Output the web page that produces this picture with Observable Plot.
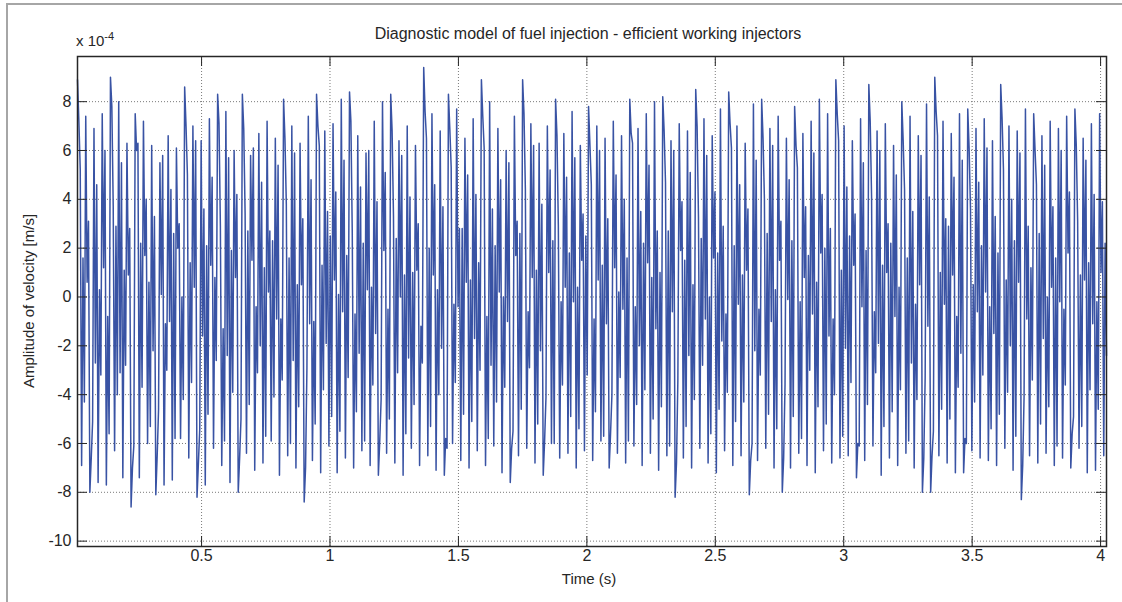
<!DOCTYPE html>
<html><head><meta charset="utf-8">
<script src="https://cdn.jsdelivr.net/npm/d3@7"></script>
<script src="https://cdn.jsdelivr.net/npm/@observablehq/plot@0.6"></script>
<style>
body{margin:0;background:#fff;}
#wrap{position:relative;width:1122px;height:602px;overflow:hidden;font-family:"Liberation Sans",Arial,Helvetica,sans-serif;color:#262626;background:#fff;}
#chart{position:absolute;left:0;top:0;}
#border{position:absolute;left:6px;top:3px;width:1300px;height:800px;border:2px solid #a6a6a6;pointer-events:none;}
.t{position:absolute;font-size:15px;line-height:15px;white-space:nowrap;}
#title{left:588px;top:26px;transform:translateX(-50%);font-size:16px;line-height:16px;}
#exp{left:76px;top:31px;}
#exp sup{font-size:11px;line-height:11px;vertical-align:6px;}
#xlab{left:589px;top:571px;transform:translateX(-50%);}
#ylab{left:28px;top:301px;transform:translate(-50%,-50%) rotate(-90deg);}
</style></head><body>
<div id="wrap">
  <div id="chart"></div>
  <div id="border"></div>
  <div class="t" id="title">Diagnostic model of fuel injection - efficient working injectors</div>
  <div class="t" id="exp">x 10<sup>-4</sup></div>
  <div class="t" id="xlab">Time (s)</div>
  <div class="t" id="ylab">Amplitude of velocity [m/s]</div>
</div>
<script>
// sampling of the signal (seconds)
const tStart = 0.017;
const tEnd = 4.023;
// axis limits and ticks (velocity in units of 1e-4 m/s)
const yMin = -10.22;
const yMax = 9.85;
const xTicks = [0.5, 1, 1.5, 2, 2.5, 3, 3.5, 4];
const yTicks = [-10, -8, -6, -4, -2, 0, 2, 4, 6, 8];
// amplitude of velocity, x 1e-4 m/s, uniformly sampled from tStart to tEnd
const velocity = [
  8.9, 7.2, 5.2, -6.9, 1.6, -4.3,    7.4, 0.6, 3.1, -8.0, -6.6, -5.1,
  6.9, -2.7, 4.6, -7.6, 0.3, -3.2,   7.5, 1.2, 6.0, -7.7, -0.8, -5.6,
  9.0, 7.8, 3.7, -6.3, 2.9, -4.0,    8.0, -3.1, 5.5, -7.4, 1.1, -2.8,
  6.3, 0.9, 2.8, -8.6, -7.0, -6.1,   7.5, 6.0, 6.3, -7.4, 2.2, -3.7,
  7.2, 1.7, 4.0, -6.0, 0.6, -5.3,    6.2, -2.2, 3.3, -8.1, -6.5, -4.6,
  5.5, 0.1, 5.8, -7.7, -1.1, -3.0,   6.6, -1.0, 4.4, -7.5, 2.6, -5.8,
  6.1, 2.0, 3.0, -5.8, 0.0, -4.2,    8.6, 7.0, 5.0, -6.6, 1.4, -3.5,
  7.0, 0.4, 6.4, -8.2, -6.8, -5.4,   6.4, -1.6, 3.6, -7.7, 2.1, -4.8,
  7.3, 1.3, 4.9, -6.2, 0.8, -2.6,    8.3, 7.1, 2.9, -6.9, -1.3, -5.9,
  7.6, -2.4, 5.7, -7.6, 1.9, -3.9,   6.0, 0.8, 4.2, -8.0, -6.6, -5.0,
  8.3, 6.9, 3.4, -6.4, 2.7, -4.4,    5.8, 1.5, 6.1, -7.1, -0.4, -3.1,
  6.7, -2.0, 4.7, -6.8, 1.2, -5.7,   7.2, 0.2, 2.7, -5.9, 2.3, -4.1,
  6.5, -0.9, 5.4, -7.3, -0.9, -3.4,  8.1, 6.5, 3.8, -6.5, 1.6, -6.0,
  7.0, -2.6, 5.9, -7.0, 0.5, -4.5,   6.3, 0.5, 3.2, -8.4, -7.0, -2.9,
  7.4, -1.1, 4.8, -6.7, -1.0, -5.2,  8.3, 7.0, 6.2, -7.2, 1.3, -3.8,
  6.8, -1.9, 3.5, -6.1, 2.5, -4.9,   7.1, 0.7, 4.3, -7.2, 0.1, -5.5,
  8.1, -0.6, 5.6, -6.6, 1.7, -3.3,   8.4, 7.2, 2.6, -7.0, -0.7, -4.7,
  6.6, -2.3, 4.5, -6.3, 2.2, -5.9,   5.9, 0.3, 6.0, -6.9, 0.4, -3.6,
  7.2, -1.5, 3.9, -7.3, -5.9, -4.2,  8.0, 1.9, 5.1, -6.4, -0.5, -5.0,
  8.3, 6.8, 3.3, -6.8, 2.4, -3.1,    6.4, 0.0, 5.8, -7.3, 0.9, -5.6,
  7.0, -2.5, 4.1, -6.2, 1.0, -4.4,   6.2, 1.1, 3.0, -6.9, -1.2, -2.7,
  9.4, 7.6, 6.5, -6.5, 2.0, -5.3,    7.5, 0.9, 4.6, -7.1, 0.3, -4.0,
  6.8, -2.1, 3.7, -7.3, -5.8, -6.2,  8.3, 6.9, 5.3, -6.0, -0.3, -3.5,
  7.7, -0.4, 2.8, -6.7, 2.8, -4.8,   6.5, 0.6, 5.0, -7.0, 0.7, -5.1,
  7.3, -1.7, 4.2, -6.3, 1.4, -3.0,   8.9, 7.4, 6.1, -6.9, -0.8, -5.8,
  8.0, -2.8, 3.6, -6.1, 2.1, -4.3,   6.9, 0.2, 4.8, -7.2, 0.0, -3.7,
  6.0, -1.0, 5.5, -7.6, -6.2, -5.5,  7.4, 1.7, 3.1, -6.5, 2.6, -4.6,
  8.9, 7.5, 4.4, -6.2, -0.6, -2.9,   7.1, 0.8, 6.2, -6.8, 1.1, -5.2,
  6.3, -2.2, 3.8, -7.3, -5.9, -4.1,  7.0, 1.0, 5.2, -6.0, 2.3, -6.0,
  8.1, 6.6, 2.9, -6.6, -0.2, -3.6,   6.7, 0.4, 4.9, -6.4, 1.8, -4.9,
  7.6, -0.2, 5.7, -7.0, 0.4, -5.4,   6.2, 1.5, 3.4, -6.3, 2.5, -3.2,
  7.8, 6.2, 4.6, -6.7, -0.9, -4.7,   7.0, 0.7, 6.0, -5.9, 1.3, -5.7,
  6.5, -1.1, 3.2, -7.0, -5.6, -4.0,  7.2, 1.2, 5.0, -6.4, 0.2, -3.3,
  6.6, -0.5, 4.0, -6.8, 1.6, -5.9,   8.1, 6.7, 6.3, -6.1, -0.4, -4.4,
  6.9, -2.0, 3.5, -6.9, 2.2, -3.8,   7.5, 1.4, 5.4, -6.4, 0.8, -5.0,
  8.0, -1.3, 2.7, -7.1, 1.0, -4.5,   8.2, 6.8, 4.7, -6.5, 2.7, -6.1,
  6.4, -0.6, 6.0, -8.2, -6.8, -3.4,  7.1, 1.9, 3.9, -6.6, 1.5, -5.3,
  6.8, -2.4, 5.1, -7.0, 0.5, -4.2,   8.5, 7.0, 3.3, -6.2, 2.4, -2.8,
  7.3, -0.9, 5.8, -6.8, 0.0, -5.6,   6.6, 1.6, 4.3, -7.2, 1.8, -4.6,
  7.7, -1.8, 2.9, -6.3, -0.7, -3.9,  8.4, 7.1, 6.1, -6.9, 2.1, -5.1,
  7.0, -0.3, 4.6, -6.5, 0.9, -4.3,   6.3, 1.1, 3.6, -8.1, -6.7, -6.0,
  7.9, -2.2, 5.6, -6.7, -0.5, -3.2,  8.1, 6.5, 4.0, -6.2, 2.6, -4.8,
  6.9, -1.0, 6.2, -7.0, 0.3, -5.4,   7.4, 1.5, 3.1, -8.0, -6.6, -3.6,
  6.5, -0.1, 4.8, -7.0, 2.3, -4.9,   7.8, 6.2, 5.3, -6.4, -0.2, -5.8,
  6.7, 0.8, 3.7, -6.9, 1.7, -3.0,    7.2, -0.7, 5.9, -7.2, 0.6, -4.5,
  8.1, 1.8, 4.2, -6.3, 2.0, -5.2,    7.5, -1.6, 2.8, -6.8, -0.9, -4.0,
  8.9, 7.5, 6.4, -6.6, 1.1, -5.7,    7.0, -2.1, 4.5, -6.5, 2.5, -3.5,
  6.4, 1.3, 3.4, -7.4, -6.0, -6.1,   7.3, -0.4, 5.5, -6.7, 1.9, -4.4,
  8.7, 7.2, 4.1, -6.1, -0.6, -3.1,   6.8, -1.9, 6.0, -7.3, 1.3, -5.3,
  7.1, 1.0, 3.0, -6.6, 2.2, -4.7,    6.2, -0.8, 5.0, -6.9, 0.4, -3.8,
  8.0, 6.4, 4.4, -6.4, 1.6, -5.9,    7.4, -2.7, 3.5, -7.0, -0.3, -4.2,
  6.6, 0.5, 5.8, -8.0, -6.6, -3.3,   7.9, -1.2, 4.1, -8.0, -6.5, -5.5,
  9.0, 7.6, 6.6, -6.5, 1.0, -4.6,    7.2, -0.3, 3.2, -6.8, 2.9, -5.0,
  6.7, 0.9, 4.9, -7.2, -0.8, -3.7,   7.5, -2.3, 5.6, -7.2, -5.8, -6.0,
  7.7, 6.1, 3.6, -6.3, 0.5, -4.3,    6.9, -0.6, 4.7, -6.6, 2.1, -3.2,
  7.3, 0.2, 6.1, -6.7, -0.4, -5.4,   6.4, -1.5, 3.3, -6.9, 1.8, -4.8,
  8.7, 7.3, 5.2, -6.2, 0.7, -3.9,    7.0, -2.0, 4.0, -7.1, 2.3, -5.7,
  6.8, 0.6, 5.9, -8.3, -6.9, -4.1,   7.7, -0.9, 2.9, -6.5, 1.2, -3.4,
  7.5, 6.0, 4.6, -6.8, 2.6, -5.2,    6.6, -1.7, 5.4, -6.4, 0.0, -4.5,
  7.2, 0.4, 3.7, -6.9, 1.6, -6.1,    6.9, -0.2, 6.0, -6.6, -0.5, -3.6,
  7.4, 1.8, 4.3, -7.0, -5.6, -4.9,   7.7, 6.2, 3.1, -6.2, 0.9, -5.3,
  6.5, 0.7, 5.6, -7.2, 1.4, -3.8,    7.1, -1.1, 4.2, -7.1, -0.2, -4.6,
  7.5, 1.0, 3.9, -6.5, 2.2, -2.4
];

const dt = (tEnd - tStart) / (velocity.length - 1);
const samples = velocity.map((v, i) => ({t: tStart + i * dt, v}));

const W = 1122, H = 602, mL = 77, mR = 16, mT = 56, mB = 56;
const frameW = W - mL - mR, frameH = H - mT - mB, tickLen = 10;
const axisColor = "#262626";
const fmt = d => String(d);

const chart = Plot.plot({
  width: W, height: H,
  marginLeft: mL, marginRight: mR, marginTop: mT, marginBottom: mB,
  style: {fontFamily: '"Liberation Sans", Arial, Helvetica, sans-serif', fontSize: "16px", color: axisColor, background: "transparent"},
  x: {domain: [tStart, tEnd], label: null},
  y: {domain: [yMin, yMax], label: null},
  marks: [
    Plot.gridX(xTicks, {stroke: "#7a7a7a", strokeOpacity: 1, strokeWidth: 1, strokeDasharray: "1,2"}),
    Plot.gridY(yTicks, {stroke: "#7a7a7a", strokeOpacity: 1, strokeWidth: 1, strokeDasharray: "1,2"}),
    Plot.lineY(samples, {x: "t", y: "v", stroke: "#3953a4", strokeWidth: 1.5}),
    Plot.frame({stroke: axisColor, strokeWidth: 1.5}),
    Plot.tickX(xTicks, {x: d => d, insetTop: frameH - tickLen, stroke: axisColor}),
    Plot.tickX(xTicks, {x: d => d, insetBottom: frameH - tickLen, stroke: axisColor}),
    Plot.tickY(yTicks, {y: d => d, insetRight: frameW - tickLen, stroke: axisColor}),
    Plot.tickY(yTicks, {y: d => d, insetLeft: frameW - tickLen, stroke: axisColor}),
    Plot.axisX(xTicks, {anchor: "bottom", tickSize: 0, tickPadding: 3, tickFormat: fmt, label: null, fontSize: 16}),
    Plot.axisY(yTicks, {anchor: "left", tickSize: 0, tickPadding: 6, tickFormat: fmt, label: null, fontSize: 16})
  ]
});
document.getElementById("chart").appendChild(chart);
</script>
</body></html>
